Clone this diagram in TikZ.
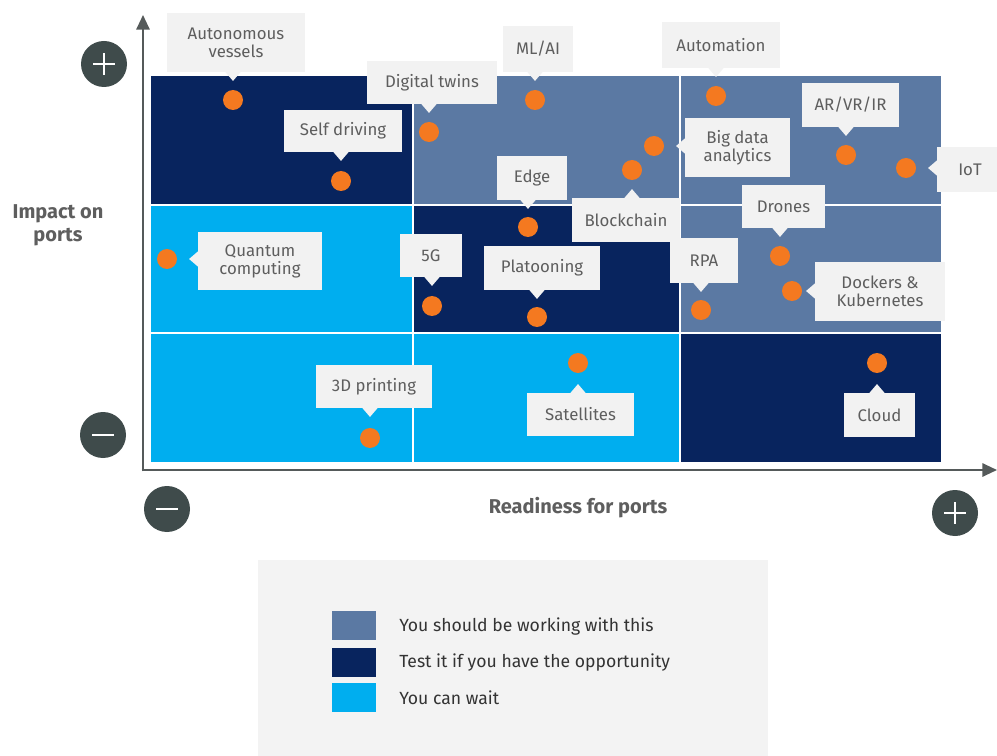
\documentclass[tikz,border=0pt]{standalone}
\usepackage{fontspec}
\setmainfont{Fira Sans}
\usetikzlibrary{calc,arrows.meta}
\newlength\px \setlength\px{0.75pt}
\definecolor{slate}{HTML}{5B79A3}
\definecolor{navy}{HTML}{08245E}
\definecolor{cyanb}{HTML}{00AEEF}
\definecolor{dotor}{HTML}{F47920}
\definecolor{axgray}{HTML}{3F4B4B}
\definecolor{callbg}{HTML}{F2F2F2}
\definecolor{legbg}{HTML}{F3F3F3}
\definecolor{txtg}{HTML}{5E5E5E}
\definecolor{axline}{HTML}{555A5A}
\tikzset{
  cbox/.style={fill=callbg, text=txtg, align=center, inner sep=0pt, font=\fontsize{12.6}{13.5}\selectfont},
  odot/.style={circle, fill=dotor, minimum size=20\px, inner sep=0pt},
  signc/.style={circle, fill=axgray, minimum size=46\px, inner sep=0pt},
  cell/.style={draw=white, line width=1.5\px},
  axlbl/.style={text=txtg, font=\fontsize{15}{17.5}\selectfont\bfseries, align=center},
  swatch/.style={minimum width=44\px, minimum height=29\px, inner sep=0pt},
  legtxt/.style={anchor=west, text=black!80, font=\fontsize{13.2}{15}\selectfont, inner sep=0pt},
  axarrow/.style={draw=axline, line width=1.5pt, -{Triangle[width=10pt,length=11pt]}},
}
\newcommand\pdown[2]{\fill[callbg] ($(#2 |- #1.south)+(-6pt,0.5pt)$) -- ($(#2 |- #1.south)+(6pt,0.5pt)$) -- ($(#2 |- #1.south)+(0,-6.5pt)$) -- cycle;}
\newcommand\pup[2]{\fill[callbg] ($(#2 |- #1.north)+(-6pt,-0.5pt)$) -- ($(#2 |- #1.north)+(6pt,-0.5pt)$) -- ($(#2 |- #1.north)+(0,6.5pt)$) -- cycle;}
\newcommand\pleft[2]{\fill[callbg] ($(#1.west |- #2)+(0.5pt,-6pt)$) -- ($(#1.west |- #2)+(0.5pt,6pt)$) -- ($(#1.west |- #2)+(-6.5pt,0)$) -- cycle;}
\begin{document}
\begin{tikzpicture}[x=0.75pt,y=-0.75pt]
\useasboundingbox (0,0) rectangle (997,756);
\fill[white] (0,0) rectangle (997,756);
% cells
\fill[navy,cell]  (150,75) rectangle (413,205);
\fill[slate,cell] (413,75) rectangle (680,205);
\fill[slate,cell] (680,75) rectangle (942,205);
\fill[cyanb,cell] (150,205) rectangle (413,333);
\fill[navy,cell]  (413,205) rectangle (680,333);
\fill[slate,cell] (680,205) rectangle (942,333);
\fill[cyanb,cell] (150,333) rectangle (413,463);
\fill[cyanb,cell] (413,333) rectangle (680,463);
\fill[navy,cell]  (680,333) rectangle (942,463);
% axes
\coordinate (origin) at (143,470);
\coordinate (ytip) at (143,15);
\coordinate (xtip) at (997,470);
\draw[axarrow] ([yshift=-1pt]origin) -- (ytip);
\draw[axarrow] ([xshift=-1pt]origin) -- (xtip);
% sign circles
\node[signc] (yplus) at (104,64) {};
\node[signc] (yminus) at (103,435) {};
\node[signc] (xminus) at (167,509) {};
\node[signc] (xplus) at (955,513) {};
\foreach \s in {yplus,xplus}{
  \draw[white, line width=0.8pt] ([xshift=-8pt]\s.center) -- ([xshift=8pt]\s.center);
  \draw[white, line width=0.8pt] ([yshift=-8pt]\s.center) -- ([yshift=8pt]\s.center);
}
\foreach \s in {yminus,xminus}{
  \draw[white, line width=0.8pt] ([xshift=-8pt]\s.center) -- ([xshift=8pt]\s.center);
}
% axis labels
\node[axlbl] (ylab) at (58,225) {Impact on\\ports};
\node[axlbl] (xlab) at (578,508) {Readiness for ports};
% dots
\node[odot] (d1) at (233,100) {};
\node[odot] (d2) at (341,181) {};
\node[odot] (d3) at (429,132) {};
\node[odot] (d4) at (535,100) {};
\node[odot] (d5) at (716,96) {};
\node[odot] (d6) at (654,146) {};
\node[odot] (d7) at (846,155) {};
\node[odot] (d8) at (906,168) {};
\node[odot] (d9) at (528,227) {};
\node[odot] (d10) at (632,170) {};
\node[odot] (d11) at (780,256) {};
\node[odot] (d12) at (167,259) {};
\node[odot] (d13) at (432,306) {};
\node[odot] (d14) at (537,317) {};
\node[odot] (d15) at (701,310) {};
\node[odot] (d16) at (792,291) {};
\node[odot] (d17) at (370,438) {};
\node[odot] (d18) at (578,363) {};
\node[odot] (d19) at (877,363) {};
% callout boxes
\node[cbox, minimum width=138\px, minimum height=59\px] (b1) at (236,42.5) {Autonomous\\vessels};
\node[cbox, minimum width=118\px, minimum height=42\px] (b2) at (343,131) {Self driving};
\node[cbox, minimum width=130\px, minimum height=43\px] (b3) at (432,82.5) {Digital twins};
\node[cbox, minimum width=70\px, minimum height=46\px] (b4) at (538,49) {ML/AI};
\node[cbox, minimum width=118\px, minimum height=46\px] (b5) at (721,45) {Automation};
\node[cbox, minimum width=105\px, minimum height=59\px] (b6) at (737.5,147.5) {Big data\\analytics};
\node[cbox, minimum width=97\px, minimum height=44\px] (b7) at (850.5,105) {AR/VR/IR};
\node[cbox, minimum width=66\px, minimum height=45\px] (b8) at (970,169.5) {IoT};
\node[cbox, minimum width=70\px, minimum height=44\px] (b9) at (532,178) {Edge};
\node[cbox, minimum width=108\px, minimum height=44\px] (b10) at (626,220) {Blockchain};
\node[cbox, minimum width=83\px, minimum height=43\px] (b11) at (783.5,206.5) {Drones};
\node[cbox, minimum width=124\px, minimum height=58\px] (b12) at (260,261) {Quantum\\computing};
\node[cbox, minimum width=62\px, minimum height=43\px] (b13) at (431,255.5) {5G};
\node[cbox, minimum width=116\px, minimum height=44\px] (b14) at (542,268) {Platooning};
\node[cbox, minimum width=68\px, minimum height=45\px] (b15) at (704,260.5) {RPA};
\node[cbox, minimum width=130\px, minimum height=59\px] (b16) at (880,291.5) {Dockers \&\\Kubernetes};
\node[cbox, minimum width=116\px, minimum height=43\px] (b17) at (374,386.5) {3D printing};
\node[cbox, minimum width=107\px, minimum height=43\px] (b18) at (580.5,414.5) {Satellites};
\node[cbox, minimum width=71\px, minimum height=44\px] (b19) at (879.5,415) {Cloud};
% pointers
\pdown{b1}{d1}
\pdown{b2}{d2}
\pdown{b3}{d3}
\pdown{b4}{d4}
\pdown{b5}{d5}
\pleft{b6}{d6}
\pdown{b7}{d7}
\pleft{b8}{d8}
\pdown{b9}{d9}
\pup{b10}{d10}
\pdown{b11}{d11}
\pleft{b12}{d12}
\pdown{b13}{d13}
\pdown{b14}{d14}
\pdown{b15}{d15}
\pleft{b16}{d16}
\pdown{b17}{d17}
\pup{b18}{d18}
\pup{b19}{d19}
% legend
\fill[legbg] (258,560) rectangle (768,756);
\node[swatch, fill=slate] (s1) at (353.5,625) {};
\node[swatch, fill=navy] (s2) at (353.5,662) {};
\node[swatch, fill=cyanb] (s3) at (353.5,697) {};
\node[legtxt] (l1) at (399,627) {You should be working with this};
\node[legtxt] (l2) at (399,663) {Test it if you have the opportunity};
\node[legtxt] (l3) at (399,698) {You can wait};
\end{tikzpicture}
\end{document}
